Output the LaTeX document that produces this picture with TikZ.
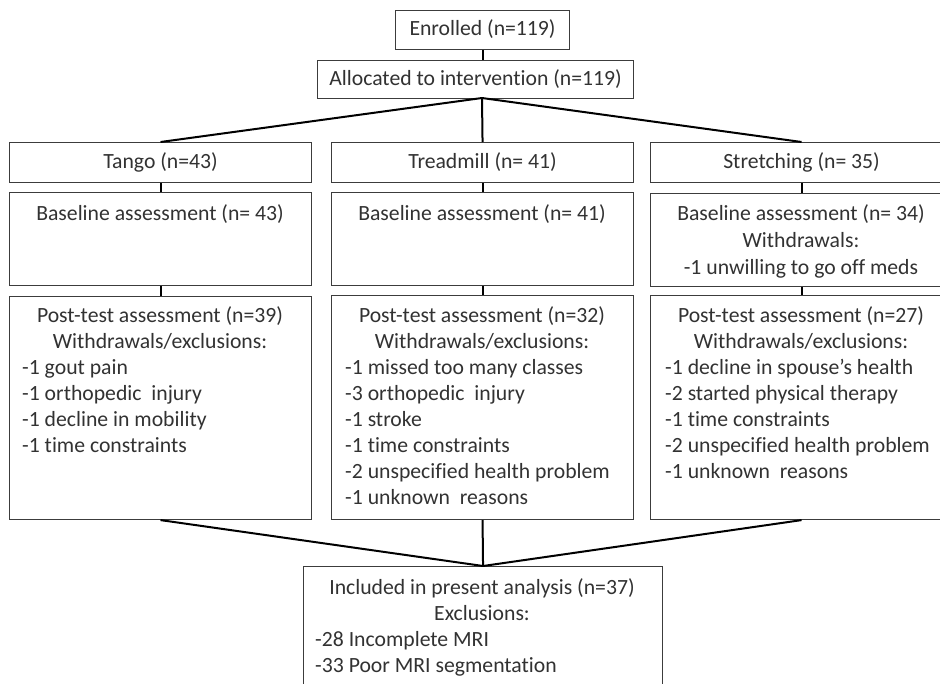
\documentclass[tikz,border=0pt]{standalone}
\usepackage{fontspec}
\setmainfont{Carlito}[Ligatures=NoCommon]
\definecolor{txtc}{RGB}{50,50,50}
\definecolor{boxc}{RGB}{60,60,60}
\begin{document}
\begin{tikzpicture}[x=1pt,y=-1pt,
  box/.style={draw=boxc, line width=1.1pt, rectangle, inner sep=0pt, anchor=north west,
              font=\fontsize{21.7}{26}\selectfont, text=txtc, text height=16pt, text depth=5pt},
  ctext/.style={font=\fontsize{21.7}{26}\selectfont, text=txtc, inner sep=0pt, anchor=base},
  ltext/.style={font=\fontsize{21.7}{26}\selectfont, text=txtc, inner sep=0pt, anchor=base west},
  conn/.style={line width=2pt, black}]
\useasboundingbox (0,0) rectangle (940,683);
\clip (0,0) rectangle (940,683);
\fill[white] (0,0) rectangle (940,683);

% top boxes
\node[box, minimum width=174pt, minimum height=39pt] (enr) at (395,10) {Enrolled (n=119)};
\node[box, minimum width=316pt, minimum height=38pt] (alloc) at (317,60) {Allocated to intervention (n=119)};

% group boxes
\node[box, minimum width=302pt, minimum height=40pt] (tango) at (9,142) {Tango (n=43)};
\node[box, minimum width=302pt, minimum height=40pt] (tread) at (331,142) {Treadmill (n= 41)};
\node[box, minimum width=302pt, minimum height=40pt] (stret) at (650,142) {Stretching (n= 35)};

% baseline boxes
\node[box, minimum width=302pt, minimum height=93pt] (tbase) at (9,192) {};
\node[box, minimum width=302pt, minimum height=93pt] (rbase) at (331,192) {};
\node[box, minimum width=302pt, minimum height=93pt] (sbase) at (650,193) {};

% post-test boxes
\node[box, minimum width=302pt, minimum height=223pt] (tpost) at (9,296) {};
\node[box, minimum width=302pt, minimum height=224pt] (rpost) at (331,295) {};
\node[box, minimum width=302pt, minimum height=224pt] (spost) at (650,295) {};

% final box
\node[box, minimum width=359pt, minimum height=150pt] (incl) at (303,566) {};

% baseline texts
\node[ctext] (tbase1) at (160,220) {Baseline assessment (n= 43)};
\node[ctext] (rbase1) at (482,220) {Baseline assessment (n= 41)};
\node[ctext] (sbase1) at (801,220) {Baseline assessment (n= 34)};
\node[ctext] (sbase2) at (801,247) {Withdrawals:};
\node[ctext] (sbase3) at (801,274) {-1 unwilling to go off meds};

% tango post-test
\node[ctext] (tp1) at (160,322) {Post-test assessment (n=39)};
\node[ctext] (tp2) at (160,348) {Withdrawals/exclusions:};
\node[ltext] (tp3) at (22,374) {-1 gout pain};
\node[ltext] (tp4) at (22,400) {-1 orthopedic\ \ injury};
\node[ltext] (tp5) at (22,426) {-1 decline in mobility};
\node[ltext] (tp6) at (22,452) {-1 time constraints};

% treadmill post-test
\node[ctext] (rp1) at (482,322) {Post-test assessment (n=32)};
\node[ctext] (rp2) at (482,348) {Withdrawals/exclusions:};
\node[ltext] (rp3) at (345,374) {-1 missed too many classes};
\node[ltext] (rp4) at (345,400) {-3 orthopedic\ \ injury};
\node[ltext] (rp5) at (345,426) {-1 stroke};
\node[ltext] (rp6) at (345,452) {-1 time constraints};
\node[ltext] (rp7) at (345,478) {-2 unspecified health problem};
\node[ltext] (rp8) at (345,504) {-1 unknown\ \ reasons};

% stretching post-test
\node[ctext] (sp1) at (801,322) {Post-test assessment (n=27)};
\node[ctext] (sp2) at (801,348) {Withdrawals/exclusions:};
\node[ltext] (sp3) at (665,374) {-1 decline in spouse’s health};
\node[ltext] (sp4) at (665,400) {-2 started physical therapy};
\node[ltext] (sp5) at (665,426) {-1 time constraints};
\node[ltext] (sp6) at (665,452) {-2 unspecified health problem};
\node[ltext] (sp7) at (665,478) {-1 unknown\ \ reasons};

% final texts
\node[ctext] (in1) at (482,594) {Included in present analysis (n=37)};
\node[ctext] (in2) at (482,620) {Exclusions:};
\node[ltext] (in3) at (315,646) {-28 Incomplete MRI};
\node[ltext] (in4) at (315,672) {-33 Poor MRI segmentation};

% connectors
\draw[conn] (enr.south) -- (enr.south |- alloc.north);
\coordinate (fan) at (482,98);
\draw[conn] (fan) -- (tango.north);
\draw[conn] (fan) -- (tread.north);
\draw[conn] (fan) -- (stret.north);
\draw[conn] (tango.south) -- (tbase.north);
\draw[conn] (tbase.south) -- (tpost.north);
\draw[conn] (tread.south) -- (rbase.north);
\draw[conn] (rbase.south) -- (rpost.north);
\draw[conn] (stret.south) -- (sbase.north);
\draw[conn] (sbase.south) -- (spost.north);
\draw[conn] (tpost.south) -- (incl.north);
\draw[conn] (rpost.south) -- (incl.north);
\draw[conn] (spost.south) -- (incl.north);
\end{tikzpicture}
\end{document}
